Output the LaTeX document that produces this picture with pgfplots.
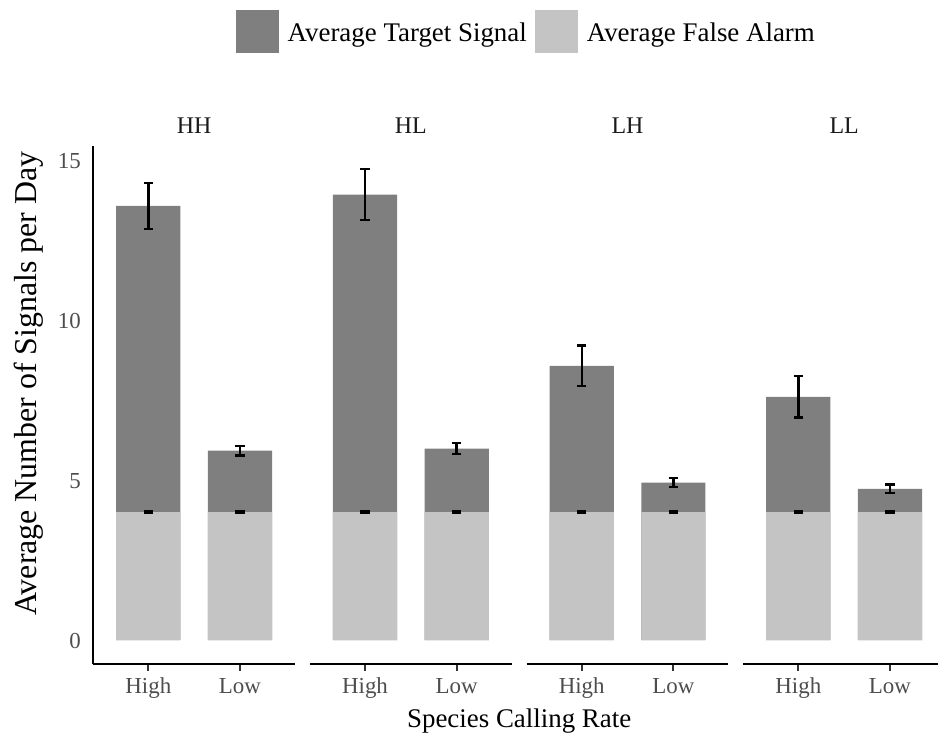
\documentclass[border=0pt]{standalone}
\usepackage{fontspec}
\setmainfont{Liberation Serif}
\usepackage{pgfplots}
\pgfplotsset{compat=1.18}
\definecolor{tgt}{HTML}{7F7F7F}
\definecolor{fa}{HTML}{C4C4C4}
\definecolor{ticklab}{HTML}{4D4D4D}
\definecolor{tickc}{HTML}{333333}
\definecolor{strip}{HTML}{1A1A1A}
\pgfplotsset{
 panel/.style={
   scale only axis, width=201.7bp, height=517.76bp,
   xmin=0.4, xmax=2.6, ymin=-0.74, ymax=15.44,
   anchor=south west,
   xtick={1,2}, xticklabels={High,Low},
   ytick={0,5,10,15},
   axis x line*=bottom,
   axis line style={line width=2.2bp, black, -},
   tick align=outside, major tick length=7bp,
   xtick style={draw=tickc, line width=2bp},
   ytick style={draw=none},
   /pgf/number format/assume math mode=true,
   ticklabel style={font=\fontsize{23}{27}\selectfont, text=ticklab, inner sep=0pt},
   xticklabel style={anchor=base, yshift=-22.6bp},
   yticklabel style={anchor=east, xshift=-5.3bp, yshift=-1bp},
   title style={font=\fontsize{24}{28}\selectfont, text=strip, at={(axis description cs:0.5,1)}, anchor=base, yshift=6.3bp, inner sep=0pt},
   clip=false,
 },
 tbar/.style={ybar, bar width=0.7, bar shift=0pt, fill=tgt, draw=none,
   legend image code/.code={\fill[tgt] (0bp,-11.5bp) rectangle (43bp,31.5bp);}},
 fbar/.style={ybar, bar width=0.7, bar shift=0pt, fill=fa, draw=none,
   legend image code/.code={\fill[fa] (0bp,-11.5bp) rectangle (43bp,31.5bp);}},
 eb/.style={draw=none, mark=none, forget plot, error bars/.cd, y dir=both, y explicit,
   error bar style={draw=black, line width=2.4bp},
   error mark options={draw=black, line width=2.4bp, mark size=4.6bp, rotate=90}},
}
\begin{document}
\begin{tikzpicture}
% ---------- HH ----------
\begin{axis}[panel, at={(93.3bp,73.3bp)}, title={HH},
  axis y line*=left,
  xlabel={Species Calling Rate},
  xlabel style={at={(axis description cs:2.1115,-0.1223)}, anchor=base, font=\fontsize{27}{30}\selectfont, text=black, inner sep=0pt},
  ylabel={Average Number of Signals per Day},
  ylabel style={at={(axis description cs:-0.2836,0.541)}, anchor=base, rotate=0, font=\fontsize{32}{36}\selectfont, text=black, inner sep=0pt},
  legend columns=2,
  legend style={at={(axis description cs:2.143,1.221)}, anchor=center, draw=none, fill=none,
    inner sep=0pt, outer sep=0pt, column sep=8.5bp, font=\fontsize{27}{30}\selectfont,
    cells={anchor=base west}, nodes={inner sep=0pt}},
]
\addplot[tbar] coordinates {(1,13.57) (2,5.92)};
\addlegendentry{Average Target Signal}
\addplot[fbar] coordinates {(1,4) (2,4)};
\addlegendentry{Average False Alarm}
\addplot[eb] coordinates {(1,13.57) +- (0,0.72) (2,5.92) +- (0,0.15)};
\addplot[eb] coordinates {(1,4) +- (0,0.02) (2,4) +- (0,0.02)};
\end{axis}
% ---------- HL ----------
\begin{axis}[panel, at={(310bp,73.3bp)}, title={HL}, hide y axis]
\addplot[tbar] coordinates {(1,13.92) (2,5.98)};
\addplot[fbar] coordinates {(1,4) (2,4)};
\addplot[eb] coordinates {(1,13.92) +- (0,0.80) (2,5.98) +- (0,0.17)};
\addplot[eb] coordinates {(1,4) +- (0,0.02) (2,4) +- (0,0.02)};
\end{axis}
% ---------- LH ----------
\begin{axis}[panel, at={(526.7bp,73.3bp)}, title={LH}, hide y axis]
\addplot[tbar] coordinates {(1,8.57) (2,4.92)};
\addplot[fbar] coordinates {(1,4) (2,4)};
\addplot[eb] coordinates {(1,8.57) +- (0,0.63) (2,4.92) +- (0,0.135)};
\addplot[eb] coordinates {(1,4) +- (0,0.02) (2,4) +- (0,0.02)};
\end{axis}
% ---------- LL ----------
\begin{axis}[panel, at={(743.3bp,73.3bp)}, title={LL}, hide y axis]
\addplot[tbar] coordinates {(1,7.60) (2,4.72)};
\addplot[fbar] coordinates {(1,4) (2,4)};
\addplot[eb] coordinates {(1,7.60) +- (0,0.65) (2,4.72) +- (0,0.135)};
\addplot[eb] coordinates {(1,4) +- (0,0.02) (2,4) +- (0,0.02)};
\end{axis}
\pgfresetboundingbox
\path[use as bounding box] (0,0) rectangle (938bp,737bp);
\end{tikzpicture}
\end{document}
